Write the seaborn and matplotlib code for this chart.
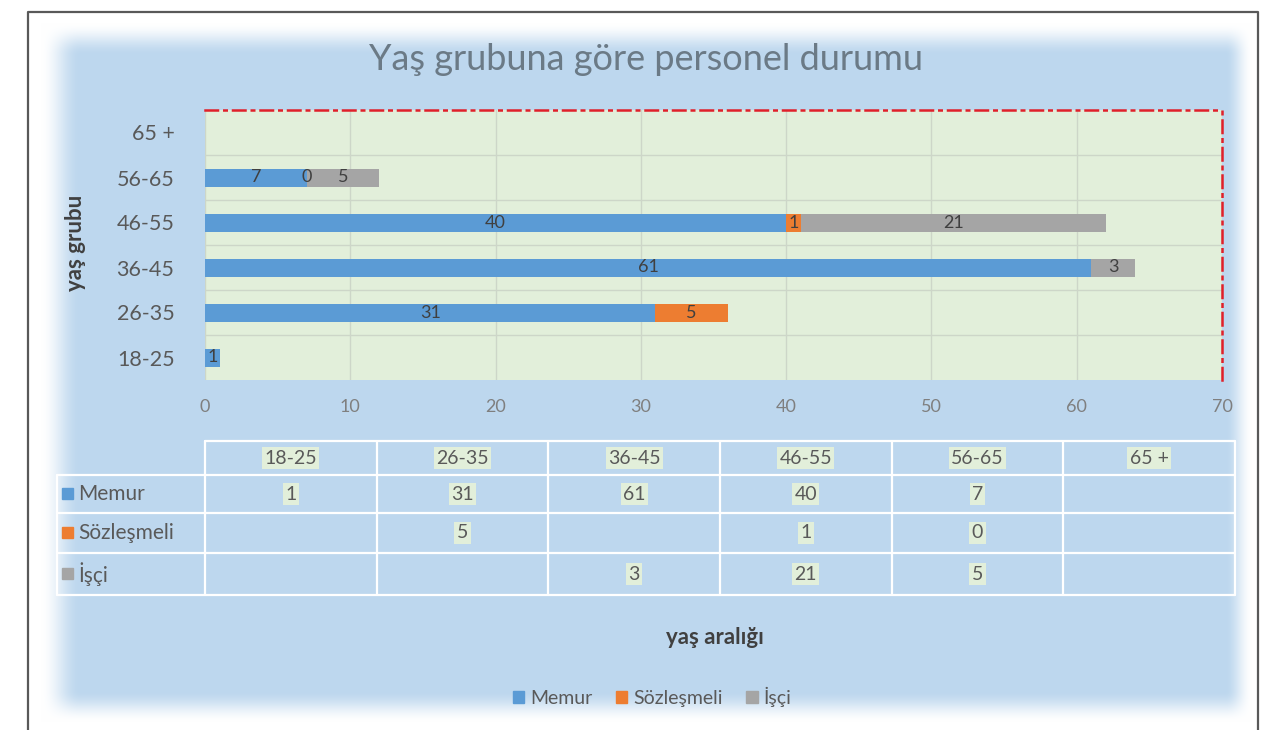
import numpy as np
import matplotlib
matplotlib.use("Agg")
import matplotlib.pyplot as plt
from matplotlib.patches import Rectangle
import seaborn as sns

# veri
kategoriler = ["18-25", "26-35", "36-45", "46-55", "56-65", "65 +"]
memur = [1, 31, 61, 40, 7, None]
sozlesmeli = [None, 5, None, 1, 0, None]
isci = [None, None, 3, 21, 5, None]
seri_adlari = ["Memur", "Sözleşmeli", "İşçi"]
renkler = ["#5b9bd5", "#ed7d31", "#a5a5a5"]
x_ticks = [0, 10, 20, 30, 40, 50, 60, 70]

sns.set_style("white")
plt.rcParams["font.family"] = ["Lato", "DejaVu Sans"]

W, H = 1285, 730
fig = plt.figure(figsize=(W / 100, H / 100), dpi=100)

# arka plan (mavi panel, kenarlari beyaza dogru soluk)
bg = fig.add_axes([0, 0, 1, 1])
bg.set_xlim(0, W)
bg.set_ylim(H, 0)
bg.axis("off")
xx = np.arange(W)[None, :]
yy = np.arange(H)[:, None]


def ramp(v, a, b):
    t = np.clip((v - a) / (b - a), 0, 1)
    return t * t * (3 - 2 * t)


alpha = ramp(xx, 40, 80) * (1 - ramp(xx, 1225, 1252)) * ramp(yy, 22, 55) * (1 - ramp(yy, 690, 722))
panel = np.array([189, 215, 238]) / 255.0
img = np.ones((H, W, 3)) * (1 - alpha[..., None]) + panel * alpha[..., None]
bg.imshow(img, extent=[0, W, H, 0], aspect="auto", zorder=0)
bg.plot([28, 28, 1258, 1258], [740, 12, 12, 740], color="#595959", lw=1.6, zorder=1)

# baslik ve eksen basliklari
fig.text(646 / W, 1 - 60 / H, "Yaş grubuna göre personel durumu", ha="center", va="center",
         fontsize=26, color="#6b7a86")
fig.text(76 / W, 1 - 243 / H, "yaş grubu", rotation=90, ha="center", va="center",
         fontsize=16, fontweight="bold", color="#404040")
fig.text(715 / W, 1 - 637 / H, "yaş aralığı", ha="center", va="center",
         fontsize=16, fontweight="bold", color="#404040")

# grafik
ax = fig.add_axes([205 / W, 1 - 380 / H, (1222 - 205) / W, 270 / H])
ax.set_facecolor("#e2efda")
sira = kategoriler[::-1]
seriler = [memur, sozlesmeli, isci]
degerler = np.array([[0 if v is None else v for v in s] for s in seriler], dtype=float)
kumulatif = np.cumsum(degerler, axis=0)

# ust uste: once toplam, sonra alttaki seriler
for i in range(2, -1, -1):
    sns.barplot(x=list(kumulatif[i]), y=kategoriler, order=sira, orient="h", color=renkler[i],
                saturation=1, width=0.4, errorbar=None, linewidth=0, ax=ax, zorder=3)

for i, s in enumerate(seriler):
    for j, v in enumerate(s):
        if v is None:
            continue
        sol = kumulatif[i][j] - v
        ax.text(sol + v / 2, sira.index(kategoriler[j]), str(v), ha="center", va="center",
                fontsize=13, color="#404040", zorder=5)

ax.set_xlim(0, 70)
ax.set_xticks(x_ticks)
ax.set_xticklabels([str(t) for t in x_ticks], fontsize=13, color="#7f7f7f")
ax.tick_params(axis="y", labelsize=15.5, colors="#595959", length=0, pad=22)
ax.tick_params(axis="x", length=0, pad=14)
ax.set_xlabel("")
ax.set_ylabel("")
ax.set_yticks(np.arange(0.5, 5, 1), minor=True)
ax.tick_params(axis="y", which="minor", length=0)
ax.grid(axis="x", color="#cdd6c8", lw=1, zorder=1)
ax.grid(axis="y", which="minor", color="#cdd6c8", lw=1, zorder=1)
ax.set_axisbelow(True)
for sp in ["left", "bottom"]:
    ax.spines[sp].set_visible(False)
for sp in ["top", "right"]:
    ax.spines[sp].set_color("#e0202a")
    ax.spines[sp].set_linestyle((0, (5, 2.5, 1, 2.5)))
    ax.spines[sp].set_linewidth(1.8)

# veri tablosu
col_x = np.linspace(205, 1235, len(kategoriler) + 1)
row_y = [441, 475, 513, 553, 595]
lc = "white"
bg.plot([205, 1235], [row_y[0], row_y[0]], color=lc, lw=1.6, zorder=2)
for y in row_y[1:]:
    bg.plot([57, 1235], [y, y], color=lc, lw=1.6, zorder=2)
bg.plot([57, 57], [row_y[1], row_y[-1]], color=lc, lw=1.6, zorder=2)
for x in col_x:
    bg.plot([x, x], [row_y[0], row_y[-1]], color=lc, lw=1.6, zorder=2)

hl = dict(boxstyle="square,pad=0.12", fc="#e2efda", ec="none")
for k, kat in enumerate(kategoriler):
    cx = (col_x[k] + col_x[k + 1]) / 2
    bg.text(cx, (row_y[0] + row_y[1]) / 2, kat, ha="center", va="center", fontsize=14,
            color="#595959", bbox=hl, zorder=3)
for r, (ad, s) in enumerate(zip(seri_adlari, seriler)):
    cy = (row_y[r + 1] + row_y[r + 2]) / 2
    bg.add_patch(Rectangle((62, cy - 6), 11, 11, color=renkler[r], zorder=3))
    bg.text(78, cy, ad, ha="left", va="center", fontsize=15, color="#595959", zorder=3)
    for k, v in enumerate(s):
        if v is None:
            continue
        cx = (col_x[k] + col_x[k + 1]) / 2
        bg.text(cx, cy, str(v), ha="center", va="center", fontsize=14, color="#595959",
                bbox=hl, zorder=3)

# lejant
handles = [Rectangle((0, 0), 1, 1, color=c) for c in renkler]
fig.legend(handles, seri_adlari, loc="center", bbox_to_anchor=(652 / W, 1 - 697 / H), ncol=3,
           frameon=False, handlelength=0.6, handleheight=0.6, handletextpad=0.3,
           columnspacing=1.2, fontsize=14, labelcolor="#595959")

fig.savefig("out.png", dpi=100)
